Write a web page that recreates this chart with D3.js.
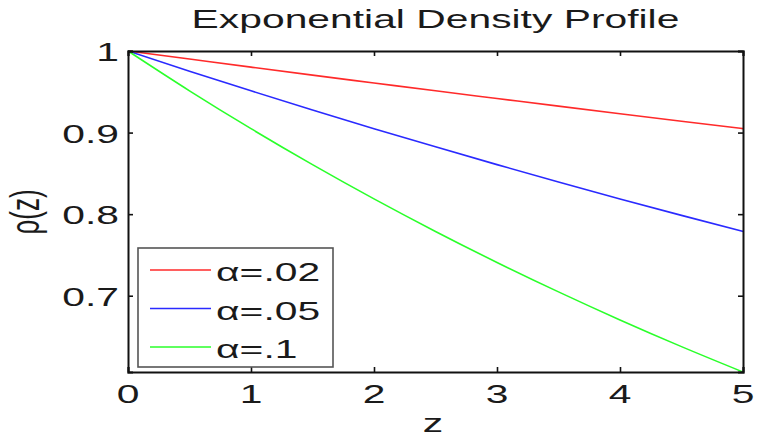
<!DOCTYPE html>
<html>
<head>
<meta charset="utf-8">
<script src="https://cdn.jsdelivr.net/npm/d3@7"></script>
<style>
  html, body { margin: 0; padding: 0; background: #fff; }
  svg { display: block; }
  text { font-family: "Liberation Sans", Arial, Helvetica, sans-serif; fill: #1a1a1a; }
</style>
</head>
<body>
<svg id="chart" width="758" height="437"></svg>
<script>
// Depth samples and density values for each attenuation coefficient
const zValues = [0, 0.5, 1, 1.5, 2, 2.5, 3, 3.5, 4, 4.5, 5];
const rhoA02 = [1, 0.9901, 0.9802, 0.9704, 0.9608, 0.9512, 0.9418, 0.9324, 0.9231, 0.9139, 0.9048];
const rhoA05 = [1, 0.9753, 0.9512, 0.9277, 0.9048, 0.8825, 0.8607, 0.8395, 0.8187, 0.7985, 0.7788];
const rhoA10 = [1, 0.9512, 0.9048, 0.8607, 0.8187, 0.7788, 0.7408, 0.7047, 0.6703, 0.6376, 0.6065];

const seriesNames = ["\u03b1=.02", "\u03b1=.05", "\u03b1=.1"];
const seriesColors = ["#ff2a2a", "#2a2aff", "#2aff2a"];

const xTicks = [0, 1, 2, 3, 4, 5];
const yTicks = [0.7, 0.8, 0.9, 1];
const yTickLabels = ["0.7", "0.8", "0.9", "1"];
const xDomain = [0, 5];
const yDomain = [0.6065, 1];

const titleText = "Exponential Density Profile";
const xLabel = "z";
const yLabel = "\u03c1(z)";

// Layout
const plot = { left: 128, right: 743, top: 51, bottom: 372 };
const SX = 1.57;          // horizontal glyph stretch
const FONT = 26;

const svg = d3.select("#chart");

const x = d3.scaleLinear().domain(xDomain).range([plot.left, plot.right]);
const y = d3.scaleLinear().domain(yDomain).range([plot.bottom, plot.top]);

// Helper: text stretched horizontally about its anchor point
function label(g, tx, ty, str, anchor, size, rot) {
  return g.append("text")
    .attr("transform", `translate(${tx},${ty}) scale(${SX},1)` + (rot ? ` rotate(${rot})` : ""))
    .attr("text-anchor", anchor)
    .attr("font-size", size)
    .text(str);
}

// Series lines
const allSeries = [rhoA02, rhoA05, rhoA10];
const line = d3.line()
  .x((d, i) => x(zValues[i]))
  .y(d => y(d))
  .curve(d3.curveMonotoneX);

const clip = svg.append("clipPath").attr("id", "plotClip")
  .append("rect")
  .attr("x", plot.left).attr("y", plot.top - 1)
  .attr("width", plot.right - plot.left).attr("height", plot.bottom - plot.top + 2);

svg.append("g").attr("clip-path", "url(#plotClip)")
  .selectAll("path.series")
  .data(allSeries)
  .join("path")
  .attr("class", "series")
  .attr("fill", "none")
  .attr("stroke", (d, i) => seriesColors[i])
  .attr("stroke-width", 1.6)
  .attr("d", line);

// Axes: ticks on all four sides, pointing inward
const tickLen = 5;
const axisG = svg.append("g");

const bottomAxis = d3.axisBottom(x).tickValues(xTicks).tickSize(-tickLen).tickFormat("");
const topAxis = d3.axisTop(x).tickValues(xTicks).tickSize(-tickLen).tickFormat("");
const leftAxis = d3.axisLeft(y).tickValues(yTicks).tickSize(-tickLen).tickFormat("");
const rightAxis = d3.axisRight(y).tickValues(yTicks).tickSize(-tickLen).tickFormat("");

[[bottomAxis, `translate(0,${plot.bottom})`],
 [topAxis, `translate(0,${plot.top})`],
 [leftAxis, `translate(${plot.left},0)`],
 [rightAxis, `translate(${plot.right},0)`]].forEach(([ax, tr]) => {
  const g = axisG.append("g").attr("transform", tr).call(ax);
  g.select(".domain").attr("stroke", "#111").attr("stroke-width", 2);
  g.selectAll(".tick line").attr("stroke", "#111").attr("stroke-width", 1.6);
});

// Tick labels
const textG = svg.append("g");
xTicks.forEach(v => label(textG, x(v), 403, String(v), "middle", FONT));
yTicks.forEach((v, i) => label(textG, plot.left - 9, y(v) + 10, yTickLabels[i], "end", FONT));

// Title and axis labels
label(textG, (plot.left + plot.right) / 2, 28, titleText, "middle", FONT);
label(textG, 433, 432, xLabel, "middle", FONT);
label(textG, 39, 212, yLabel, "middle", FONT, -90);

// Legend
const legend = { x: 138, y: 248, w: 195, h: 119 };
const legG = svg.append("g");
legG.append("rect")
  .attr("x", legend.x).attr("y", legend.y)
  .attr("width", legend.w).attr("height", legend.h)
  .attr("fill", "#fff").attr("stroke", "#555").attr("stroke-width", 1.6);

const rowY = d3.scalePoint().domain(seriesNames).range([270, 347]);
seriesNames.forEach((name, i) => {
  const ry = rowY(name);
  legG.append("line")
    .attr("x1", 150).attr("x2", 211)
    .attr("y1", ry).attr("y2", ry)
    .attr("stroke", seriesColors[i]).attr("stroke-width", 1.6);
  label(legG, 216, ry + 11, name, "start", FONT);
});
</script>
</body>
</html>
